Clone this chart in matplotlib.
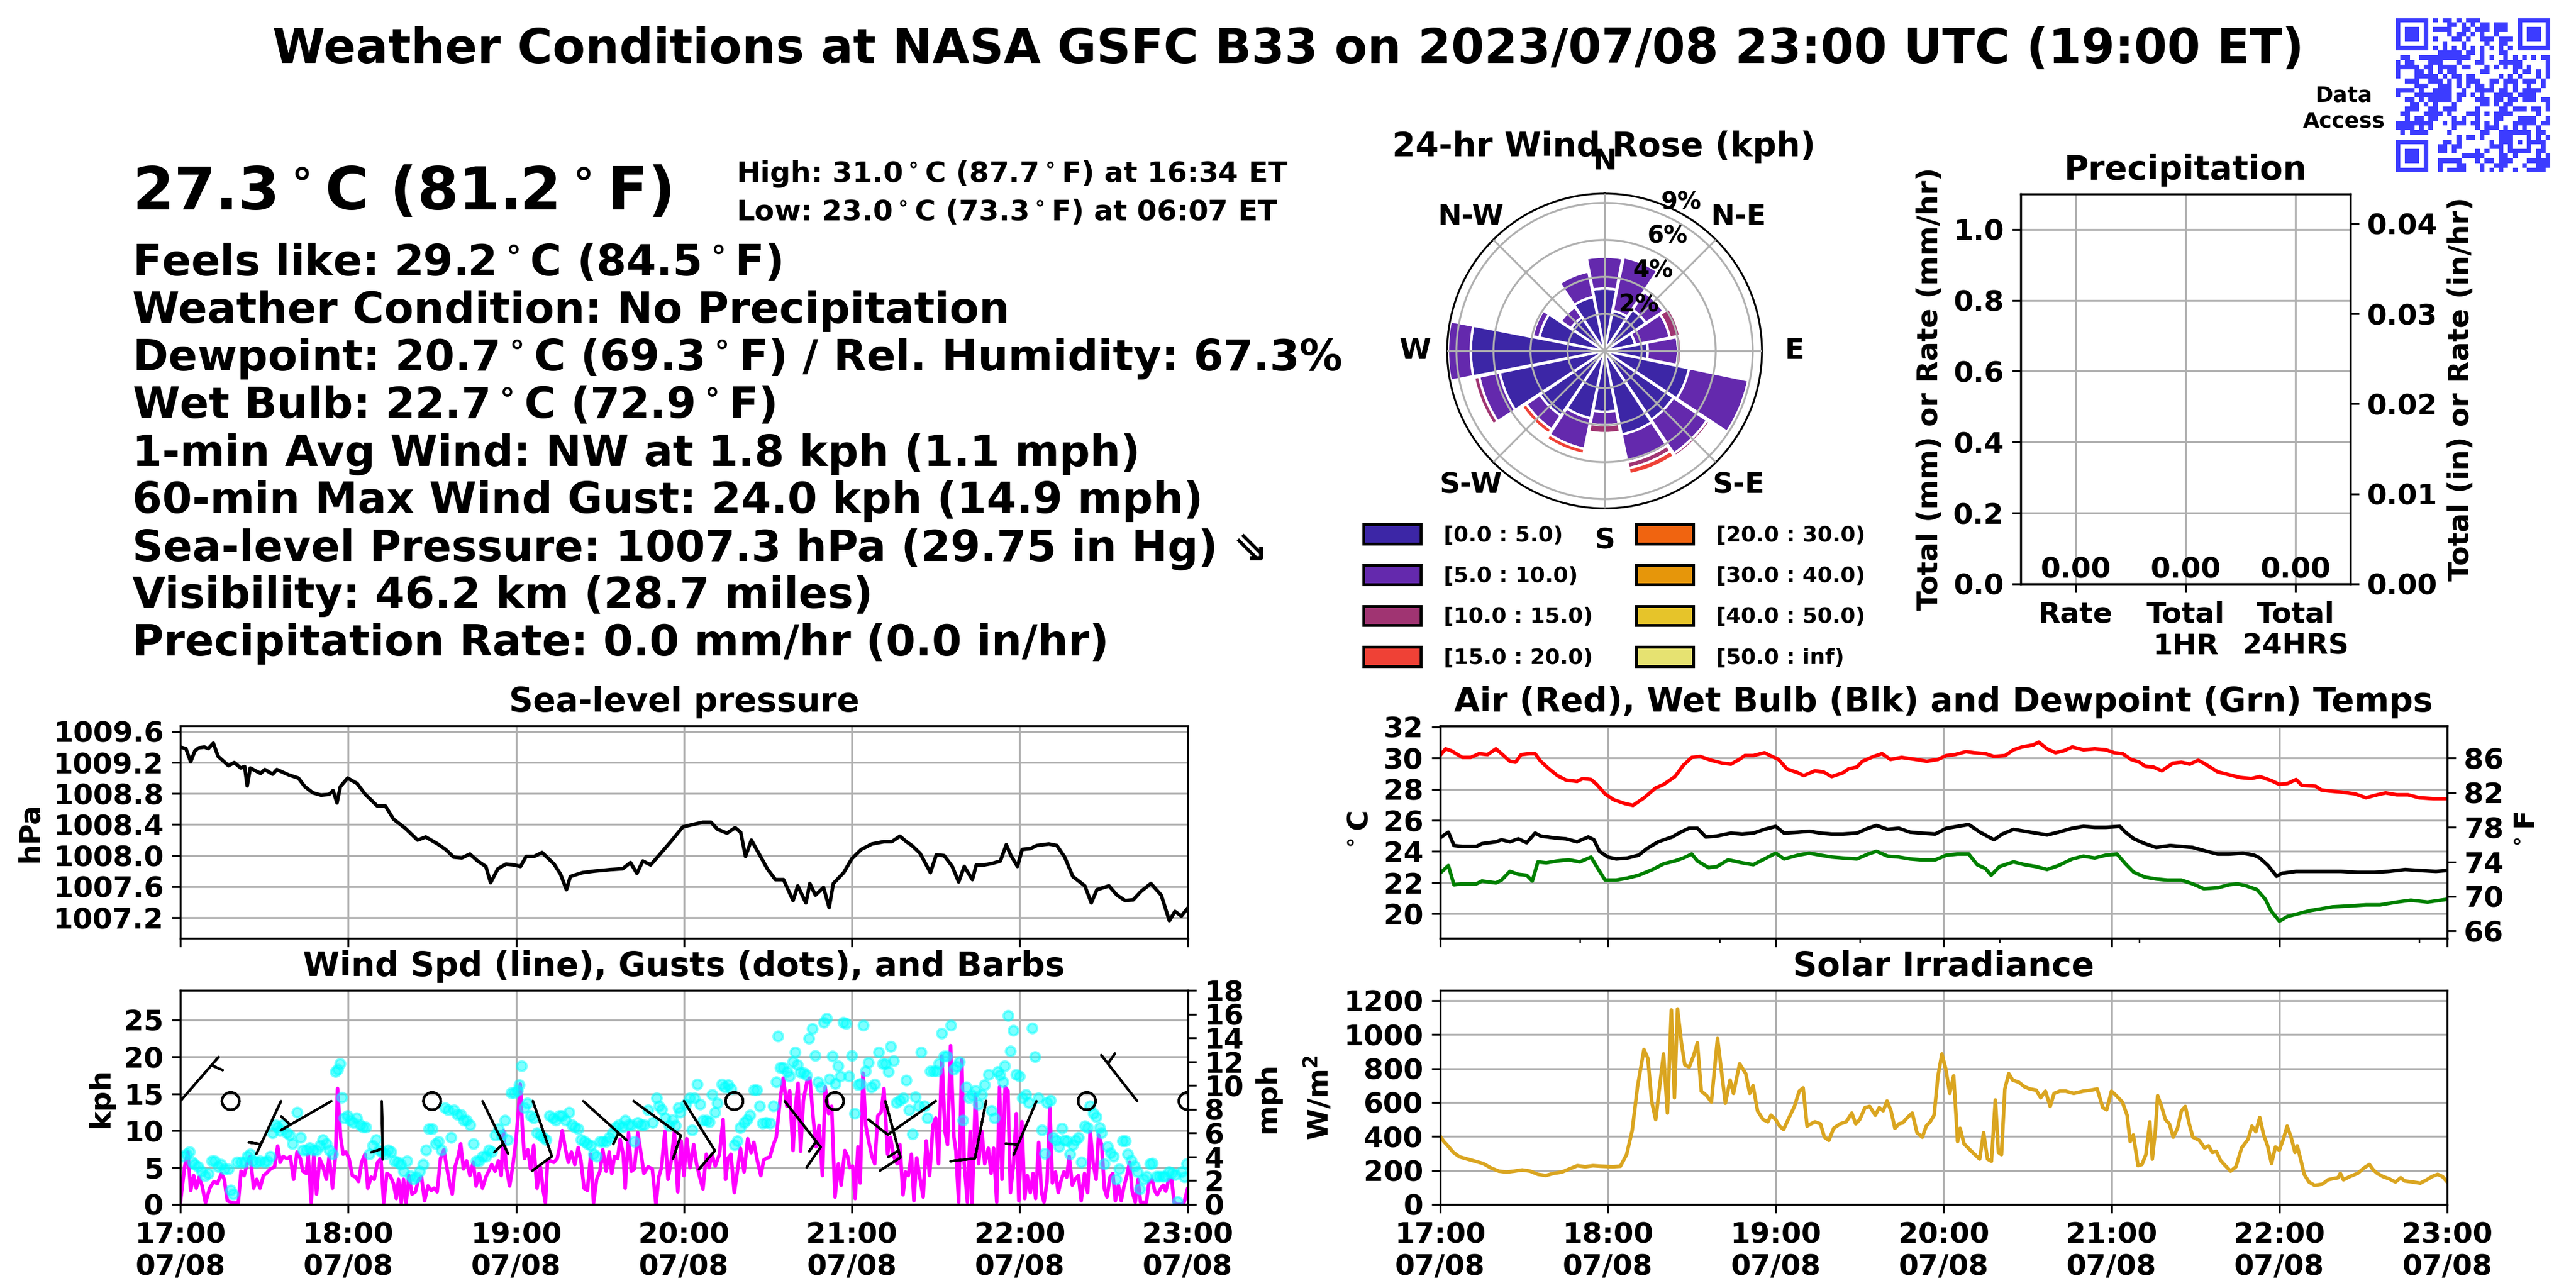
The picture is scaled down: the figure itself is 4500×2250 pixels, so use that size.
import hashlib
from datetime import datetime, timedelta

import numpy as np
import matplotlib
matplotlib.use('Agg')
import matplotlib.pyplot as plt
import matplotlib.dates as mdates
from matplotlib.patches import Patch
from matplotlib.ticker import MultipleLocator, FormatStrFormatter

plt.rcParams['font.family'] = ['DejaVu Sans']
plt.rcParams['font.weight'] = 'bold'
plt.rcParams['axes.titleweight'] = 'bold'
plt.rcParams['axes.labelweight'] = 'bold'
plt.rcParams['axes.titlesize'] = 14
plt.rcParams['axes.labelsize'] = 12
plt.rcParams['xtick.labelsize'] = 12
plt.rcParams['ytick.labelsize'] = 12

# ---------------- data (minutes after 17:00 UTC, value) ----------------
T0 = datetime(2023, 7, 8, 17, 0)

PRESSURE = [(0, 1009.40), (2, 1009.38), (3.7, 1009.21), (5.2, 1009.35), (6.6, 1009.39), (8.6, 1009.40),
            (10, 1009.38), (11.8, 1009.45), (13.5, 1009.28), (17.2, 1009.16), (19.3, 1009.20), (21.6, 1009.13),
            (23, 1009.15), (23.9, 1008.90), (25, 1009.13), (28.7, 1009.06), (30.2, 1009.11), (33, 1009.05),
            (34.5, 1009.11), (38.8, 1009.04), (42.2, 1009.00), (44.5, 1008.89), (47.4, 1008.81), (50.3, 1008.78),
            (53.2, 1008.79), (54.6, 1008.84), (56, 1008.68), (57.2, 1008.89), (59.8, 1009.00), (63.2, 1008.93),
            (66.1, 1008.79), (70.4, 1008.64), (73.3, 1008.64), (76.2, 1008.47), (80.5, 1008.35), (84.8, 1008.20),
            (87.7, 1008.24), (92, 1008.15), (94.8, 1008.08), (97.7, 1007.98), (100.6, 1007.97), (103.5, 1008.02),
            (106.3, 1007.93), (109.2, 1007.86), (110.9, 1007.65), (113.5, 1007.83), (116.4, 1007.89),
            (119.3, 1007.88), (121.6, 1007.86), (123.6, 1007.99), (126.5, 1007.99), (129.3, 1008.04),
            (133.6, 1007.89), (135.9, 1007.76), (138, 1007.56), (139.4, 1007.73), (143.7, 1007.78),
            (148, 1007.80), (153.8, 1007.82), (158.1, 1007.83), (160.9, 1007.91), (163.2, 1007.77),
            (165.3, 1007.93), (168.1, 1007.88), (171, 1008.00), (175.3, 1008.18), (179.6, 1008.37),
            (183.1, 1008.40), (186.8, 1008.43), (189.7, 1008.43), (192, 1008.34), (195.4, 1008.29),
            (198.3, 1008.36), (200.3, 1008.30), (202, 1007.99), (204.1, 1008.20), (206.9, 1008.02),
            (209.8, 1007.83), (212.7, 1007.69), (215.6, 1007.69), (219, 1007.42), (220.7, 1007.61),
            (223.6, 1007.39), (225, 1007.64), (227, 1007.49), (229.9, 1007.59), (231.9, 1007.33),
            (233.4, 1007.64), (237.1, 1007.78), (240, 1007.96), (243.4, 1008.08), (247.2, 1008.15),
            (251.5, 1008.18), (254.3, 1008.18), (257.2, 1008.25), (259.5, 1008.18), (261.5, 1008.13),
            (264.4, 1008.03), (268.1, 1007.78), (270.2, 1008.01), (273, 1008.00), (275.9, 1007.86),
            (278.2, 1007.66), (280.2, 1007.86), (283.1, 1007.69), (284.5, 1007.88), (287.4, 1007.88),
            (290.3, 1007.90), (293.1, 1007.93), (295.2, 1008.14), (296.9, 1008.00), (299.2, 1007.86),
            (300.9, 1008.08), (303.8, 1008.09), (306.1, 1008.13), (310.4, 1008.15), (313.3, 1008.13),
            (316.1, 1007.98), (319, 1007.73), (323.3, 1007.61), (325.6, 1007.39), (327.6, 1007.56),
            (331.9, 1007.61), (334.8, 1007.49), (337.7, 1007.42), (340.6, 1007.43), (343.4, 1007.54),
            (346.9, 1007.64), (350.6, 1007.49), (353.5, 1007.16), (355.5, 1007.28), (357.8, 1007.22),
            (360, 1007.32)]

AIR_TEMP = [(0, 30.16), (2, 30.59), (4, 30.47), (8, 30.04), (11, 30.04), (14, 30.28), (17, 30.22), (20, 30.59),
            (22, 30.28), (25, 29.79), (27, 29.73), (29, 30.22), (32, 30.28), (34, 30.28), (36, 29.79), (39, 29.30),
            (42, 28.87), (45, 28.59), (49, 28.50), (51, 28.68), (54, 28.62), (56, 28.31), (59, 27.70), (62, 27.33),
            (66, 27.08), (69, 26.96), (73, 27.45), (77, 28.07), (80, 28.31), (84, 28.81), (87, 29.54), (90, 30.04),
            (93, 30.10), (97, 29.85), (101, 29.67), (104, 29.61), (107, 29.91), (109, 30.16), (112, 30.16),
            (116, 30.34), (118, 30.16), (121, 29.91), (124, 29.30), (128, 29.05), (130, 28.87), (134, 29.18),
            (137, 29.11), (140, 28.81), (144, 29.05), (146, 29.30), (149, 29.42), (151, 29.79), (155, 30.10),
            (158, 30.28), (161, 29.91), (165, 30.04), (170, 29.91), (174, 29.79), (178, 29.91), (181, 30.16),
            (184, 30.22), (188, 30.41), (191, 30.34), (195, 30.28), (198, 30.10), (202, 30.16), (205, 30.53),
            (208, 30.71), (212, 30.84), (214, 31.02), (217, 30.59), (220, 30.34), (223, 30.47), (226, 30.71),
            (230, 30.53), (234, 30.59), (238, 30.53), (241, 30.34), (244, 30.28), (247, 29.91), (250, 29.73),
            (252, 29.48), (255, 29.42), (258, 29.18), (262, 29.67), (265, 29.73), (268, 29.61), (271, 29.85),
            (273, 29.67), (278, 29.11), (282, 28.93), (286, 28.75), (290, 28.68), (293, 28.81), (297, 28.56),
            (300, 28.31), (303, 28.37), (306, 28.62), (308, 28.25), (313, 28.19), (315, 27.95), (318, 27.88),
            (322, 27.82), (327, 27.70), (331, 27.45), (335, 27.64), (338, 27.76), (342, 27.64), (346, 27.64),
            (350, 27.45), (355, 27.39), (360, 27.39)]

WET_BULB = [(0, 24.87), (3, 25.24), (5, 24.38), (8, 24.32), (13, 24.32), (15, 24.50), (20, 24.62), (22, 24.75),
            (25, 24.62), (28, 24.81), (31, 24.56), (34, 25.18), (36, 24.99), (41, 24.87), (45, 24.81), (49, 24.62),
            (53, 24.93), (55, 24.75), (57, 24.01), (60, 23.64), (63, 23.52), (67, 23.58), (71, 23.76), (74, 24.19),
            (78, 24.62), (83, 24.93), (86, 25.24), (89, 25.49), (92, 25.49), (95, 24.93), (99, 24.99), (104, 25.18),
            (108, 25.12), (112, 25.18), (116, 25.42), (120, 25.61), (123, 25.18), (128, 25.24), (132, 25.30),
            (136, 25.18), (140, 25.12), (144, 25.12), (149, 25.18), (153, 25.49), (156, 25.67), (160, 25.42),
            (164, 25.49), (168, 25.24), (172, 25.18), (177, 25.12), (181, 25.49), (185, 25.61), (189, 25.73),
            (193, 25.24), (198, 24.75), (201, 25.12), (205, 25.42), (209, 25.30), (213, 25.18), (217, 25.06),
            (221, 25.24), (226, 25.49), (230, 25.61), (234, 25.55), (238, 25.55), (243, 25.61), (245, 25.24),
            (248, 24.81), (252, 24.50), (256, 24.26), (261, 24.38), (265, 24.32), (269, 24.26), (274, 24.01),
            (278, 23.83), (282, 23.83), (287, 23.89), (291, 23.76), (293, 23.58), (296, 23.09), (299, 22.41),
            (301, 22.60), (306, 22.72), (311, 22.72), (317, 22.72), (322, 22.72), (328, 22.66), (334, 22.66),
            (339, 22.72), (345, 22.84), (350, 22.78), (356, 22.72), (360, 22.78)]

DEWPOINT = [(0, 22.60), (3, 23.09), (5, 21.86), (8, 21.92), (13, 21.92), (15, 22.10), (20, 21.98), (22, 22.16),
            (25, 22.72), (28, 22.53), (31, 22.47), (33, 22.10), (35, 23.33), (38, 23.27), (42, 23.39), (46, 23.46),
            (50, 23.33), (54, 23.64), (56, 23.03), (59, 22.16), (63, 22.16), (67, 22.29), (71, 22.47), (76, 22.84),
            (80, 23.21), (84, 23.39), (87, 23.58), (90, 23.83), (92, 23.39), (96, 22.96), (99, 23.03), (103, 23.46),
            (108, 23.27), (112, 23.15), (116, 23.52), (120, 23.89), (123, 23.52), (128, 23.76), (132, 23.89),
            (136, 23.76), (140, 23.64), (144, 23.58), (149, 23.52), (153, 23.83), (156, 24.01), (160, 23.70),
            (164, 23.64), (168, 23.52), (172, 23.46), (177, 23.46), (181, 23.76), (185, 23.83), (189, 23.83),
            (192, 23.15), (195, 22.90), (197, 22.47), (200, 23.03), (205, 23.33), (209, 23.15), (213, 23.03),
            (217, 22.84), (221, 23.09), (226, 23.52), (230, 23.70), (234, 23.58), (238, 23.76), (242, 23.83),
            (245, 23.21), (248, 22.66), (252, 22.35), (256, 22.23), (260, 22.16), (265, 22.16), (269, 21.92),
            (273, 21.61), (278, 21.67), (282, 21.86), (285, 21.92), (288, 21.80), (292, 21.55), (295, 20.93),
            (297, 20.20), (300, 19.52), (303, 19.83), (307, 20.01), (311, 20.20), (315, 20.32), (319, 20.44),
            (325, 20.50), (331, 20.57), (336, 20.57), (342, 20.75), (347, 20.87), (353, 20.75), (360, 20.93)]

SOLAR = [(0, 403), (1.4, 370), (2.8, 345), (4.8, 306), (7, 280), (9.8, 267), (12.6, 254), (15.4, 241), (18.2, 215),
         (21, 196), (23.8, 190), (26.6, 196), (29.4, 203), (32.2, 196), (35, 177), (37.8, 170), (40.7, 183),
         (43.5, 190), (46.3, 209), (49.1, 228), (51.9, 222), (54.7, 228), (57.5, 225), (61.7, 222), (64.5, 225),
         (66.7, 293), (68.7, 435), (70.6, 693), (72.9, 912), (74.3, 860), (75.7, 603), (77.1, 499), (78.5, 693),
         (79.9, 886), (81.3, 538), (82.7, 1145), (83.8, 628), (84.9, 1151), (86.3, 951), (87.5, 822), (89.1, 809),
         (90.6, 873), (92, 951), (93.4, 667), (95.3, 641), (97, 603), (99.2, 977), (102, 596), (103.7, 732),
         (104.9, 654), (107.1, 828), (109.3, 770), (110.7, 654), (111.9, 699), (113.5, 551), (115.5, 499),
         (117.2, 486), (118.3, 525), (120, 499), (121.4, 461), (122.8, 441), (124.8, 512), (126.7, 577),
         (128.4, 667), (129.8, 686), (131.2, 461), (132.6, 474), (134, 486), (136, 474), (137.4, 396), (139, 377),
         (140.7, 448), (143, 474), (145.2, 486), (147.2, 538), (148.6, 474), (150, 499), (151.9, 570), (153.6, 577),
         (155.6, 525), (157, 570), (158.4, 551), (159.8, 609), (161.2, 551), (162.6, 448), (164, 474), (165.4, 480),
         (167.1, 512), (168.8, 538), (170.5, 422), (172.4, 396), (173.8, 461), (175.2, 486), (176.6, 525),
         (178, 757), (179.4, 886), (180.8, 796), (182.2, 654), (183.6, 757), (185, 370), (185.9, 448), (187.3, 357),
         (189.2, 325), (191.2, 293), (192.9, 267), (194.3, 422), (195.7, 267), (197.1, 254), (198.5, 615),
         (199.6, 306), (200.7, 293), (201.9, 680), (203.3, 770), (204.7, 732), (206.9, 719), (208.9, 693),
         (210.8, 680), (213.1, 673), (214.7, 628), (216.4, 667), (218.1, 577), (219.5, 654), (221.5, 667),
         (223.7, 667), (226.5, 654), (229.9, 667), (232.7, 673), (234.9, 680), (236.9, 570), (238.3, 557),
         (240, 667), (241.7, 641), (243.9, 603), (245.6, 525), (246.7, 370), (247.8, 409), (249.5, 228),
         (250.9, 235), (252.3, 293), (253.7, 486), (254.6, 267), (255.7, 435), (256.5, 641), (257.9, 577),
         (259.3, 499), (260.7, 474), (262.1, 396), (263.6, 448), (265, 551), (266.4, 577), (267.8, 474),
         (269.1, 396), (271.4, 377), (273.3, 332), (274.7, 345), (276.1, 306), (277.5, 312), (278.9, 261),
         (280.3, 235), (282.6, 196), (284.5, 222), (286.5, 332), (288.8, 383), (290.2, 461), (291.6, 428),
         (293, 512), (294.4, 409), (295.8, 345), (297.2, 241), (298.6, 338), (300, 319), (301.4, 383), (302.8, 461),
         (304.2, 396), (305.6, 306), (306.4, 345), (307.8, 254), (308.9, 177), (310.6, 132), (312.6, 112),
         (315.4, 119), (317.4, 145), (319, 151), (321, 157), (321.8, 183), (322.9, 145), (325.2, 164), (328, 183),
         (330.3, 215), (332.2, 235), (333.6, 203), (335, 183), (337, 164), (339.2, 151), (341.5, 132), (343.4, 157),
         (344.8, 138), (347.6, 132), (350.4, 125), (352.7, 145), (354.6, 164), (356.6, 177), (358.3, 164),
         (360, 132)]

WIND_SPD = [(0, 0.2), (1.5, 5.0), (2.7, 7.1), (3.7, 1.9), (4.8, 3.9), (5.7, 2.2), (6.7, 3.7), (7.8, 2.5), (9, 0.2),
            (10.5, 2.2), (12, 3.1), (13.2, 2.8), (14.7, 4.2), (15.7, 3.4), (16.8, 0.5), (18.7, 0.2), (20.7, 0.2),
            (21.7, 4.5), (22.8, 3.9), (24, 5.7), (25, 6.5), (26.2, 2.2), (27.3, 3.4), (28.5, 2.2), (29.7, 3.9),
            (30.7, 4.2), (32.2, 4.8), (33.7, 5.1), (34.8, 7.9), (35.7, 5.7), (36.7, 6.5), (38.2, 6.2), (39.3, 6.5),
            (40.5, 3.4), (41.7, 7.1), (42.9, 6.2), (43.8, 4.5), (45, 4.2), (45.7, 6.8), (46.8, 0.2), (47.7, 6.8),
            (48.7, 1.4), (49.8, 6.2), (51, 5.1), (52.2, 3.4), (53.2, 6.5), (54.4, 2.2), (55.5, 6.8), (56.2, 15.7),
            (57.3, 9.1), (58.2, 6.8), (59.2, 7.1), (60.3, 6.2), (61.5, 3.9), (62.7, 3.7), (63.7, 3.1), (64.8, 5.7),
            (66, 6.8), (67, 2.2), (68.2, 3.7), (69.3, 3.4), (70.5, 5.7), (71.7, 6.2), (72.7, 0.2), (73.8, 4.2),
            (75, 3.9), (76.2, 2.8), (77.2, 0.8), (78, 3.4), (79, 0.2), (79.8, 3.4), (80.7, 0.2), (81.7, 3.9),
            (82.8, 1.4), (84, 1.7), (85.2, 3.4), (86.2, 3.7), (87.3, 0.5), (88.5, 2.5), (89.7, 1.9), (90.7, 2.2),
            (91.8, 1.7), (93, 6.2), (94.2, 7.4), (95.2, 5.1), (96.3, 2.8), (97.2, 1.4), (98.2, 5.1), (99.3, 6.5),
            (100.2, 8.2), (101.2, 4.8), (102.3, 5.9), (103.5, 3.9), (104.7, 5.7), (105.7, 2.5), (106.8, 4.2),
            (108, 2.2), (109.2, 3.7), (110.2, 4.5), (111.3, 5.4), (112.5, 4.5), (113.7, 5.9), (114.7, 3.9),
            (115.5, 10.0), (116.5, 5.1), (117.7, 2.5), (118.8, 5.1), (120, 8.8), (120.7, 12.0), (121.5, 16.3),
            (122.2, 10.8), (123, 6.2), (124.2, 7.4), (125.2, 4.8), (126.3, 8.0), (127.5, 2.2), (128.7, 5.1),
            (129.7, 1.9), (130.5, 0.2), (131.2, 5.7), (132.3, 5.9), (133.5, 5.7), (134.7, 6.2), (135.7, 8.0),
            (136.5, 10.0), (137.7, 7.4), (138.7, 5.7), (139.8, 7.1), (141, 5.4), (142.2, 7.7), (143.2, 5.9),
            (144.3, 2.2), (145.5, 1.9), (146.7, 6.8), (147.7, 0.2), (148.8, 3.4), (150, 4.5), (151, 7.4),
            (152.2, 4.5), (153.3, 7.1), (154.2, 4.2), (155.2, 6.5), (156.3, 6.2), (157.2, 8.8), (158.3, 6.8),
            (159, 2.2), (160.2, 9.7), (161.2, 4.5), (162.3, 4.8), (163.5, 9.7), (164.7, 6.8), (165.7, 4.2),
            (167.2, 5.1), (168.7, 4.8), (170, 0.0), (171, 3.7), (172, 5.0), (173.2, 9.9), (174.3, 3.4), (175.5, 6.0),
            (176.6, 9.9), (177.8, 1.7), (179, 8.6), (180, 3.9), (181, 8.9), (182.2, 5.0), (183.5, 8.1), (184.5, 5.5),
            (185.5, 3.9), (186.8, 2.1), (188, 6.8), (189, 5.0), (190, 6.8), (191.2, 5.2), (192.7, 6.8), (194, 11.5),
            (194.9, 3.4), (195.8, 6.3), (196.8, 6.8), (198, 1.6), (199, 4.2), (200.2, 7.6), (201.5, 4.4),
            (202.8, 8.9), (204, 7.0), (205, 8.4), (206.2, 6.0), (207.5, 3.9), (208.5, 6.0), (209.7, 6.3),
            (210.7, 6.4), (212, 8.1), (213, 9.1), (214.5, 14.6), (215.5, 17.1), (216.8, 13.3), (217.8, 15.4),
            (219, 7.3), (219.8, 13.1), (220.8, 16.4), (221.7, 7.2), (222.7, 14.1), (224, 16.7), (225, 17.1),
            (226.2, 11.7), (227.2, 7.8), (228.3, 10.7), (229.5, 3.9), (230.5, 15.9), (231.7, 12.3), (232.8, 13.3),
            (234, 1.0), (235.2, 5.5), (236.2, 2.6), (237.5, 7.3), (238.5, 6.5), (239.2, 5.0), (240.3, 5.2),
            (241.2, 0.8), (242.2, 7.8), (243, 2.9), (244, 17.8), (245, 10.7), (246, 8.6), (247.2, 6.5), (248.2, 5.5),
            (249.3, 12.0), (250.5, 12.5), (251.5, 15.7), (252.8, 6.8), (253.8, 9.1), (255, 6.5), (256.2, 5.5),
            (257.2, 8.1), (258.3, 1.3), (259.2, 4.4), (260.2, 3.9), (261.3, 6.8), (262.2, 0.5), (263.2, 6.3),
            (264.3, 3.7), (265.5, 1.0), (266.6, 8.6), (267.8, 3.9), (269, 10.7), (270, 11.7), (271, 5.5),
            (272.2, 20.1), (273.3, 9.9), (274.2, 8.1), (275.3, 21.5), (276.5, 9.1), (277.2, 7.3), (278.2, 0.3),
            (279.3, 19.6), (280.2, 5.5), (281.3, 0.3), (282.3, 9.9), (283, 0.0), (284.2, 14.9), (285.3, 5.5),
            (286.5, 9.9), (287.5, 5.5), (288.8, 7.6), (289.8, 4.2), (290.7, 7.6), (291.8, 0.3), (292.8, 15.9),
            (293.7, 3.4), (294.8, 15.9), (295.8, 15.4), (296.7, 1.6), (297.8, 5.5), (298.8, 12.3), (299.7, 0.5),
            (300.8, 11.2), (301.8, 0.8), (302.7, 3.9), (303.8, 1.6), (304.8, 4.2), (305.7, 0.8), (306.8, 8.4),
            (307.8, 1.6), (308.7, 0.3), (309.8, 3.1), (310.8, 13.1), (311.7, 2.9), (312.8, 4.4), (313.8, 1.6),
            (314.7, 3.1), (315.8, 4.4), (316.8, 3.7), (317.7, 6.5), (318.8, 2.6), (319.8, 3.4), (321, 3.9),
            (322, 0.5), (323.2, 4.2), (324.3, 1.6), (325.2, 9.9), (326.3, 5.5), (327.3, 3.4), (328.2, 9.4),
            (329.3, 8.1), (330.3, 2.1), (331.2, 1.0), (332.3, 3.7), (333.3, 4.2), (334.2, 0.5), (335.3, 2.6),
            (336.3, 0.5), (337.2, 2.3), (338.3, 3.9), (339.3, 5.7), (340.2, 1.8), (341.3, 0.3), (342.3, 3.4),
            (343.2, 0.3), (344.3, 0.3), (345.3, 0.3), (346.2, 2.9), (347.3, 3.4), (348.3, 1.8), (349.2, 1.3),
            (350.3, 2.1), (351.3, 2.6), (352.2, 1.8), (353.3, 3.4), (354.3, 3.4), (355.2, 0.3), (356.3, 0.0),
            (357.8, 0.0), (358.8, 0.3), (360, 2.1)]

WIND_GUST = [(0.8, 6.5), (2.2, 6.8), (3.3, 7.1), (4.2, 5.7), (5.2, 5.4), (6.3, 5.1), (7.5, 4.5), (8.7, 3.9),
             (10, 4.2), (11.2, 5.9), (12.3, 5.9), (13.5, 5.1), (14.5, 5.4), (15.7, 4.8), (17.2, 4.8), (18, 1.9),
             (18.9, 1.4), (20.2, 5.7), (21.7, 5.7), (23, 5.7), (24, 6.5), (25, 6.8), (26, 5.9), (27.3, 5.7),
             (28.5, 5.9), (30, 5.7), (31.2, 5.9), (32.2, 6.5), (33, 9.7), (33.9, 10.8), (34.8, 10.5), (35.7, 10.0),
             (36.7, 10.8), (38, 9.7), (39, 9.4), (40.2, 8.2), (41.7, 12.5), (42.9, 9.1), (43.8, 7.4), (45, 7.4),
             (46.2, 7.7), (47.4, 7.4), (48.7, 7.4), (50, 8.0), (51, 8.8), (52.2, 8.2), (53.2, 7.4), (54.5, 6.8),
             (55.5, 18.0), (56.2, 18.3), (57, 19.1), (57.7, 14.5), (58.5, 11.7), (59.7, 12.0), (60.7, 11.4),
             (61.8, 11.1), (63, 11.7), (64.2, 10.8), (65.2, 10.5), (66.3, 10.5), (67.5, 6.8), (68.7, 8.0),
             (69.9, 8.8), (71, 7.4), (72, 7.1), (73.2, 6.8), (74.2, 7.4), (75.3, 7.1), (76.5, 5.9), (77.7, 5.7),
             (78.7, 5.4), (79.8, 4.5), (81, 5.9), (82.2, 3.9), (83.2, 3.4), (84.3, 3.7), (85.5, 4.5), (86.7, 5.4),
             (87.7, 7.4), (88.8, 10.2), (90, 10.2), (91.2, 8.2), (92.2, 8.5), (93.3, 7.4), (94.5, 13.1),
             (95.7, 12.8), (96.7, 9.1), (97.8, 12.8), (99, 12.2), (100.2, 12.2), (101.2, 11.4), (102.3, 11.4),
             (103.5, 10.8), (104.7, 8.2), (105.7, 5.9), (106.8, 5.9), (108, 6.5), (109.2, 6.5), (110.2, 7.4),
             (111.3, 7.1), (112.5, 9.4), (113.7, 10.2), (114.7, 9.4), (116, 11.4), (117, 8.8), (118.2, 15.1),
             (119.2, 15.1), (120.5, 15.4), (121.2, 16.2), (122, 18.8), (123, 13.1), (124, 13.7), (125.2, 12.0),
             (126.3, 11.7), (127.5, 9.7), (128.7, 9.4), (129.7, 9.1), (130.8, 8.8), (132, 12.0), (133.2, 11.7),
             (134.2, 11.4), (135.5, 12.0), (136.5, 12.0), (137.7, 11.4), (139, 12.5), (140, 10.8), (141, 10.5),
             (142.2, 10.2), (143.2, 8.8), (144.5, 8.5), (145.5, 8.2), (146.7, 8.0), (147.7, 6.8), (148.8, 6.5),
             (150, 8.5), (151, 8.5), (152.2, 8.5), (153.3, 9.1), (154.5, 9.7), (155.7, 10.5), (156.7, 10.8),
             (158, 10.5), (159, 11.4), (160.2, 10.8), (161.2, 10.8), (162.3, 8.5), (163.5, 11.1), (164.7, 10.8),
             (165.7, 10.8), (167.2, 12.8), (168.7, 11.1), (170.2, 14.4), (171, 13.3), (172, 12.9), (173.2, 11.7),
             (174.7, 10.7), (176, 11.5), (177, 10.7), (178, 13.1), (178.7, 12.5), (180.7, 13.6), (182, 14.4),
             (183, 10.1), (183.7, 14.4), (184.8, 16.3), (185.7, 13.6), (186.8, 11.4), (188, 11.4), (189, 11.2),
             (190, 14.9), (191.2, 12.5), (192, 13.7), (193.5, 16.3), (194.5, 15.9), (195.8, 16.2), (196.8, 15.7),
             (198, 8.1), (199, 8.6), (200.2, 10.4), (201.5, 11.1), (202.5, 11.5), (203.5, 12.1), (205, 15.5),
             (206, 15.5), (207, 13.3), (208, 11.0), (209.3, 11.1), (210.7, 11.0), (212, 13.3), (213, 16.6),
             (213.7, 22.8), (214.5, 18.5), (215.5, 18.5), (216.8, 18.0), (217.8, 17.4), (219, 19.3), (219.8, 20.6),
             (220.5, 18.9), (221.5, 17.9), (222.8, 17.8), (223.8, 17.5), (224.7, 22.5), (225.8, 23.8), (227, 20.2),
             (228, 16.6), (229, 15.9), (230, 24.7), (231, 25.2), (232, 17.0), (233, 20.1), (234, 16.4), (235, 18.8),
             (236, 17.4), (237, 24.7), (238, 24.5), (239, 17.4), (240, 20.2), (241, 12.3), (242.2, 16.2),
             (243, 16.4), (244, 24.3), (245, 18.1), (246, 19.2), (247, 15.9), (248.2, 16.3), (249.7, 20.6),
             (251, 19.1), (252, 19.1), (253, 18.0), (254, 21.4), (255, 19.5), (256, 13.8), (257.2, 14.1),
             (258.5, 14.4), (259.5, 16.8), (260.5, 12.8), (261.7, 9.5), (262.8, 14.6), (264, 13.3), (264.7, 20.6),
             (266, 13.3), (267, 11.7), (268, 18.1), (269.2, 18.1), (270.3, 18.1), (271.2, 19.1), (272.2, 23.2),
             (273, 20.1), (274, 20.1), (275.3, 24.3), (276.5, 18.3), (277.5, 18.7), (278.5, 19.3), (279.7, 11.4),
             (281, 15.9), (282, 14.4), (283, 14.8), (284.2, 15.4), (285.3, 13.6), (286.5, 14.9), (287.5, 16.2),
             (288.8, 17.6), (290, 12.7), (291, 11.7), (292.2, 18.0), (293, 17.5), (294, 16.6), (294.7, 18.8),
             (295.8, 25.6), (296.7, 20.8), (297.8, 23.6), (298.8, 17.6), (300, 17.4), (301, 14.4), (302.2, 14.9),
             (303.3, 13.8), (304.5, 23.9), (305.5, 20.0), (306.8, 14.4), (308, 10.1), (309, 6.9), (309.8, 13.8),
             (311, 14.1), (312, 9.1), (313, 8.7), (314, 7.8), (315, 10.3), (316, 8.7), (317, 8.6), (318, 6.8),
             (319, 8.1), (320, 8.7), (321, 9.1), (322, 5.7), (323.2, 10.6), (324.3, 10.4), (325.2, 13.3),
             (326.3, 12.3), (327.3, 11.9), (328.5, 10.4), (329.3, 9.7), (330.3, 5.5), (331.5, 7.8), (332.5, 7.0),
             (333.5, 6.5), (334.5, 3.4), (335.5, 4.8), (336.8, 8.6), (337.8, 8.6), (338.7, 6.8), (339.8, 6.0),
             (341, 5.2), (342, 4.4), (343, 2.1), (344.3, 3.4), (345.3, 3.8), (346.5, 5.5), (347.5, 5.6),
             (348.8, 3.8), (349.8, 3.8), (351, 3.8), (352, 3.8), (353.3, 4.4), (354.3, 4.3), (355.5, 4.0),
             (356.5, 0.4), (357.8, 4.4), (358.8, 3.7), (359.7, 5.5)]

# wind barbs every 18 minutes: (minute, direction from N in deg, speed kph)
BARBS = [(0, 41, 5), (18, 0, 0), (36, 205, 5), (54, 240, 5), (72, 179, 5), (90, 0, 0), (108, 154, 5),
         (126, 161, 10), (144, 132, 5), (162, 126, 10), (180, 148, 10), (198, 0, 0), (216, 142, 15),
         (234, 0, 0), (252, 165, 15), (270, 235, 10), (288, 191, 10), (306, 203, 5), (324, 0, 0),
         (342, 322, 5), (360, 0, 0)]

# wind rose: 16 directions, frequency (%) per speed bin
ROSE_DIRS = np.arange(0, 360, 22.5)
ROSE_BINS = ['[0.0 : 5.0)', '[5.0 : 10.0)', '[10.0 : 15.0)', '[15.0 : 20.0)',
             '[20.0 : 30.0)', '[30.0 : 40.0)', '[40.0 : 50.0)', '[50.0 : inf)']
ROSE_COLORS = ['#3c26a6', '#6429ad', '#a03472', '#ef4136', '#f06410', '#e6960a', '#e6c42a', '#e6e271']
ROSE_FREQ = [
    [3.62, 2.38, 2.89, 1.81, 2.50, 5.00, 4.82, 4.94, 3.52, 3.98, 4.52, 6.21, 7.75, 3.86, 2.35, 3.20],
    [1.84, 3.16, 1.23, 2.05, 1.75, 3.50, 2.35, 1.63, 0.78, 1.81, 0.96, 1.21, 1.33, 0.39, 0.72, 1.50],
    [0, 0, 0, 0.60, 0.19, 0.12, 0.18, 0.36, 0.46, 0, 0, 0.30, 0, 0, 0, 0],
    [0, 0, 0, 0, 0, 0, 0, 0.36, 0, 0.30, 0.30, 0, 0, 0, 0, 0],
    [0] * 16, [0] * 16, [0] * 16, [0] * 16,
]

PRECIP_CATS = ['Rate', 'Total\n1HR', 'Total\n24HRS']
PRECIP_VALS = [0.0, 0.0, 0.0]

TITLE = 'Weather Conditions at NASA GSFC B33 on 2023/07/08 23:00 UTC (19:00 ET)'
BIG_TEMP = '27.3$^\\circ$C (81.2$^\\circ$F)'
HIGH_TXT = 'High: 31.0$^\\circ$C (87.7$^\\circ$F) at 16:34 ET'
LOW_TXT = 'Low: 23.0$^\\circ$C (73.3$^\\circ$F) at 06:07 ET'
INFO_LINES = [
    'Feels like: 29.2$^\\circ$C (84.5$^\\circ$F)',
    'Weather Condition: No Precipitation',
    'Dewpoint: 20.7$^\\circ$C (69.3$^\\circ$F) / Rel. Humidity: 67.3%',
    'Wet Bulb: 22.7$^\\circ$C (72.9$^\\circ$F)',
    '1-min Avg Wind: NW at 1.8 kph (1.1 mph)',
    '60-min Max Wind Gust: 24.0 kph (14.9 mph)',
    'Sea-level Pressure: 1007.3 hPa (29.75 in Hg) \u21d8',
    'Visibility: 46.2 km (28.7 miles)',
    'Precipitation Rate: 0.0 mm/hr (0.0 in/hr)',
]


def to_dt(pairs):
    mins = [p[0] for p in pairs]
    vals = [p[1] for p in pairs]
    return [T0 + timedelta(minutes=float(m)) for m in mins], vals


def time_axis(ax, labels):
    ax.set_xlim(T0, T0 + timedelta(hours=6))
    ax.xaxis.set_major_locator(mdates.HourLocator())
    ax.xaxis.set_major_formatter(mdates.DateFormatter('%H:%M\n%m/%d'))
    ax.tick_params(axis='x', labelbottom=labels)
    ax.grid(True)


fig = plt.figure(figsize=(15, 7.5), dpi=300)

fig.text(0.5, 0.9511, TITLE, ha='center', va='baseline', fontsize=20)

# ---------------- text block ----------------
fig.text(0.0513, 0.8373, BIG_TEMP, fontsize=25, va='baseline')
fig.text(0.2857, 0.8587, HIGH_TXT, fontsize=12, va='baseline')
fig.text(0.2857, 0.8289, LOW_TXT, fontsize=12, va='baseline')
for i, line in enumerate(INFO_LINES):
    fig.text(0.0513, 0.7862 - i * 0.03689, line, fontsize=18, va='baseline')

# ---------------- pressure ----------------
ax_p = fig.add_axes([0.070, 0.2716, 0.391, 0.165])
t, v = to_dt(PRESSURE)
ax_p.plot(t, v, color='black', lw=1.5)
ax_p.set_ylim(1006.935, 1009.676)
ax_p.yaxis.set_major_locator(MultipleLocator(0.4))
ax_p.yaxis.set_major_formatter(FormatStrFormatter('%.1f'))
ax_p.set_ylabel('hPa')
ax_p.set_title('Sea-level pressure')
time_axis(ax_p, False)

# ---------------- wind ----------------
ax_w = fig.add_axes([0.070, 0.0649, 0.391, 0.166])
t, v = to_dt(WIND_SPD)
ax_w.plot(t, v, color='magenta', lw=1.5)
t, v = to_dt(WIND_GUST)
ax_w.plot(t, v, 'o', color='cyan', alpha=0.5, ms=4)
b_t = mdates.date2num([T0 + timedelta(minutes=b[0]) for b in BARBS])
b_d = np.deg2rad([b[1] for b in BARBS])
b_s = np.array([b[2] for b in BARBS], dtype=float)
ax_w.barbs(b_t, np.full(len(BARBS), 14.0), -b_s * np.sin(b_d), -b_s * np.cos(b_d), length=7, zorder=5)
ax_w.set_ylim(0, 18 * 1.609344)
ax_w.set_yticks(range(0, 26, 5))
ax_w.set_ylabel('kph')
ax_w.set_title('Wind Spd (line), Gusts (dots), and Barbs')
time_axis(ax_w, True)
ax_w2 = ax_w.twinx()
ax_w2.set_ylim(0, 18)
ax_w2.set_yticks(range(0, 19, 2))
ax_w2.set_ylabel('mph')

# ---------------- temperatures ----------------
ax_t = fig.add_axes([0.559, 0.2716, 0.391, 0.165])
for series, col in [(AIR_TEMP, 'red'), (WET_BULB, 'black'), (DEWPOINT, 'green')]:
    t, v = to_dt(series)
    ax_t.plot(t, v, color=col, lw=1.5)
ax_t.set_ylim(18.43, 32.08)
ax_t.set_yticks(range(20, 33, 2))
ax_t.set_ylabel('$^\\circ$C')
ax_t.set_title('Air (Red), Wet Bulb (Blk) and Dewpoint (Grn) Temps')
time_axis(ax_t, False)
ax_t.set_xticks([T0 + timedelta(minutes=50 * k) for k in range(1, 8)], minor=True)
ax_t2 = ax_t.twinx()
ax_t2.set_ylim(18.43 * 9 / 5 + 32, 32.08 * 9 / 5 + 32)
ax_t2.set_yticks(range(66, 87, 4))
ax_t2.set_ylabel('$^\\circ$F')

# ---------------- solar ----------------
ax_s = fig.add_axes([0.559, 0.0649, 0.391, 0.166])
t, v = to_dt(SOLAR)
ax_s.plot(t, v, color='goldenrod', lw=1.5)
ax_s.set_ylim(0, 1259)
ax_s.set_yticks(range(0, 1201, 200))
ax_s.set_ylabel('W/m$^2$')
ax_s.set_title('Solar Irradiance')
time_axis(ax_s, True)

# ---------------- precipitation ----------------
ax_r = fig.add_axes([0.7844, 0.5467, 0.128, 0.3027])
x = np.arange(len(PRECIP_CATS))
ax_r.bar(x, PRECIP_VALS, color='tab:blue')
for xi, val in zip(x, PRECIP_VALS):
    ax_r.text(xi, val, f'{val:.2f}', ha='center', va='bottom', fontsize=12)
ax_r.set_xticks(x)
ax_r.set_xticklabels(PRECIP_CATS)
ax_r.set_xlim(-0.5, 2.5)
ax_r.set_ylim(0, 1.1)
ax_r.set_yticks(np.arange(0, 1.01, 0.2))
ax_r.yaxis.set_major_formatter(FormatStrFormatter('%.1f'))
ax_r.grid(True)
ax_r.set_ylabel('Total (mm) or Rate (mm/hr)')
ax_r.set_title('Precipitation')
ax_r2 = ax_r.twinx()
ax_r2.set_ylim(0, 1.1 / 25.4)
ax_r2.set_yticks(np.arange(0, 0.041, 0.01))
ax_r2.yaxis.set_major_formatter(FormatStrFormatter('%.2f'))
ax_r2.set_ylabel('Total (in) or Rate (in/hr)')

# ---------------- wind rose ----------------
ax_wr = fig.add_axes([0.5618, 0.6053, 0.1222, 0.2444], projection='polar')
ax_wr.set_theta_zero_location('N')
ax_wr.set_theta_direction(-1)
theta = np.deg2rad(ROSE_DIRS)
width = np.deg2rad(22.5) * 0.97
offset = np.zeros(len(ROSE_DIRS))
for freq, col in zip(ROSE_FREQ, ROSE_COLORS):
    freq = np.array(freq, dtype=float)
    keep = freq > 0
    if keep.any():
        ax_wr.bar(theta[keep], freq[keep], width=width, bottom=offset[keep], color=col,
                  edgecolor='white', linewidth=1.0, zorder=1)
    offset += freq
ax_wr.set_ylim(0, 9.12)
ax_wr.set_axisbelow(False)
ax_wr.set_rgrids([2.146, 4.292, 6.438, 8.584], labels=['2%', '4%', '6%', '9%'], angle=22.5, fontsize=10)
ax_wr.set_thetagrids(range(0, 360, 45), labels=['N', 'N-E', 'E', 'S-E', 'S', 'S-W', 'W', 'N-W'], fontsize=12)
ax_wr.tick_params(axis='x', pad=3)
ax_wr.grid(True, color='#b0b0b0')
fig.text(0.6227, 0.8787, '24-hr Wind Rose (kph)', ha='center', va='baseline', fontsize=14)

handles = [Patch(facecolor=c, edgecolor='black', linewidth=1.2) for c in ROSE_COLORS]
fig.legend(handles, ROSE_BINS, ncol=2, loc='upper left', bbox_to_anchor=(0.5293, 0.5929), frameon=False,
           fontsize=9, handlelength=2.67, handleheight=1.0, labelspacing=0.9, columnspacing=2.0,
           handletextpad=1.07, borderaxespad=0, borderpad=0)

# ---------------- QR-style data access block ----------------
n = 33
bits = ''
seed = b'NASA GSFC B33 weather data access'
while len(bits) < n * n:
    seed = hashlib.sha256(seed).digest()
    bits += ''.join(f'{b:08b}' for b in seed)
qr = np.array([int(c) for c in bits[:n * n]]).reshape(n, n)
for r0, c0 in [(0, 0), (0, n - 7), (n - 7, 0)]:
    qr[max(r0 - 1, 0):r0 + 8, max(c0 - 1, 0):c0 + 8] = 0
    qr[r0:r0 + 7, c0:c0 + 7] = 1
    qr[r0 + 1:r0 + 6, c0 + 1:c0 + 6] = 0
    qr[r0 + 2:r0 + 5, c0 + 2:c0 + 5] = 1
qr[6, 8:n - 8] = np.arange(8, n - 8) % 2 == 0
qr[8:n - 8, 6] = np.arange(8, n - 8) % 2 == 0
qr[n - 9:n - 4, n - 9:n - 4] = 1
qr[n - 8:n - 5, n - 8:n - 5] = 0
qr[n - 7, n - 7] = 1
ax_q = fig.add_axes([0.930, 0.866, 0.060, 0.1196])
ax_q.imshow(qr, cmap=matplotlib.colors.ListedColormap(['white', '#3c3cff']), aspect='auto',
            interpolation='nearest')
ax_q.axis('off')
fig.text(0.910, 0.9156, 'Data\nAccess', ha='center', va='center', fontsize=9, linespacing=1.3)

fig.savefig('out.png', dpi=300)
